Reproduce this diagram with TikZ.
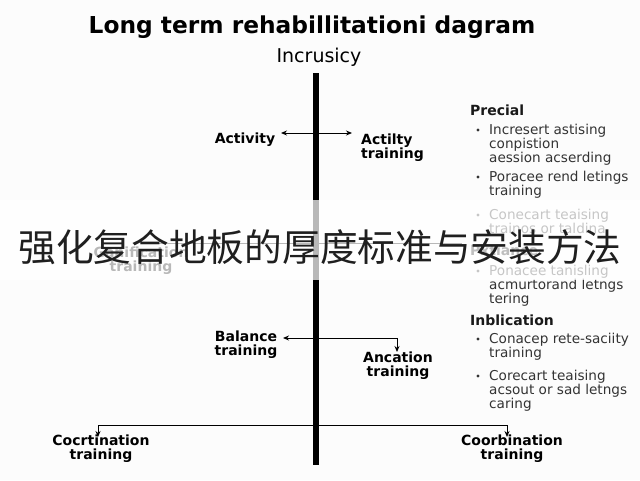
\documentclass[tikz,border=0pt]{standalone}
\usepackage{fontspec}
\setmainfont{DejaVu Sans}
\newfontfamily\cjk{Noto Sans CJK SC}
\usetikzlibrary{arrows.meta}
\begin{document}
\begin{tikzpicture}[x=1pt,y=-1pt,
  lbl/.style={font=\bfseries\fontsize{14}{14}\selectfont, align=center, inner sep=0pt, text=black},
  head/.style={font=\bfseries\fontsize{14}{14}\selectfont, anchor=west, inner sep=0pt, text=black!90},
  item/.style={font=\fontsize{13.6}{12.8}\selectfont, align=left, anchor=north west, inner sep=0pt, text=black!80},
  dot/.style={circle, fill=black!80, inner sep=0pt, minimum size=3.4pt},
  conn/.style={line width=0.9pt, black},
  arr/.style={conn, -{Stealth[length=6pt,width=5pt]}}]
\useasboundingbox (0,0) rectangle (640,480);
\fill[white!99!black] (0,0) rectangle (640,480);

% title and top label
\node[font=\bfseries\fontsize{23.3}{26}\selectfont, inner sep=0pt] (title) at (312,27) {Long term rehabillitationi dagram};
\node[font=\fontsize{19}{20}\selectfont, inner sep=0pt] (inc) at (319,57) {Incrusicy};

% main axis
\coordinate (top) at (316,73);
\coordinate (bot) at (316,465);
\draw[line width=6pt] (top) -- (bot);

% Activity arrows
\coordinate (a0) at (316,133);
\coordinate (aL) at (281,133);
\coordinate (aR) at (352,133);
\draw[arr] (a0) -- (aL);
\draw[arr] (a0) -- (aR);
\node[lbl] (act) at (245,140) {Activity};
\node[lbl, align=left, anchor=west] (act2) at (361,147.5) {Actilty\\training};

% faded branch (under the band)
\coordinate (g0) at (142,243);
\coordinate (g1) at (462,243);
\draw[conn] (g0) -- (g1);
\node[lbl] (gan) at (141,261) {Ganification\\training};

% Balance
\coordinate (b0) at (316,338);
\coordinate (bL) at (283,338);
\coordinate (bR) at (397,338);
\coordinate (bD) at (397,352);
\draw[arr] (b0) -- (bL);
\draw[arr] (b0) -- (bR) -- (bD);
\node[lbl] (bal) at (246,345) {Balance\\training};
\node[lbl] (anc) at (398,366) {Ancation\\training};

% Bottom branches
\coordinate (c0) at (316,425);
\coordinate (cL) at (98,425);
\coordinate (cR) at (507,425);
\coordinate (cLd) at (98,437);
\coordinate (cRd) at (507,437);
\draw[conn] (cL) -- (cR);
\draw[arr] (cL) -- (cLd);
\draw[arr] (cR) -- (cRd);
\node[lbl] (co1) at (101,449) {Cocrtination\\training};
\node[lbl] (co2) at (512,449) {Coorbination\\training};

% right panel
\node[head] (h1) at (470,110) {Precial};
\node[dot] (d1) at (478,130) {};
\node[item] (t1) at (489,123.5) {Incresert astising\\conpistion\\aession acserding};
\node[dot] (d2) at (478,177) {};
\node[item] (t2) at (489,170.5) {Poracee rend letings\\training};
\node[dot] (d3) at (478,215) {};
\node[item] (t3) at (489,208.5) {Conecart teaising\\trainos or taldina};
\node[head] (h2) at (470,250) {Pxtiance};
\node[dot] (d4) at (478,271) {};
\node[item] (t4) at (489,264.5) {Ponacee tanisling\\acmurtorand letngs\\tering};
\node[head] (h3) at (470,320) {Inblication};
\node[dot] (d5) at (478,339) {};
\node[item] (t5) at (489,332.5) {Conacep rete-saciity\\training};
\node[dot] (d6) at (478,376) {};
\node[item] (t6) at (489,369.5) {Corecart teaising\\acsout or sad letngs\\caring};

% overlay band and caption
\fill[white, opacity=0.72] (0,200) rectangle (640,280);
\node[font=\cjk\fontsize{37.7}{40}\selectfont, text=black!88, inner sep=0pt] (cap) at (320,247) {强化复合地板的厚度标准与安装方法};
\end{tikzpicture}
\end{document}
